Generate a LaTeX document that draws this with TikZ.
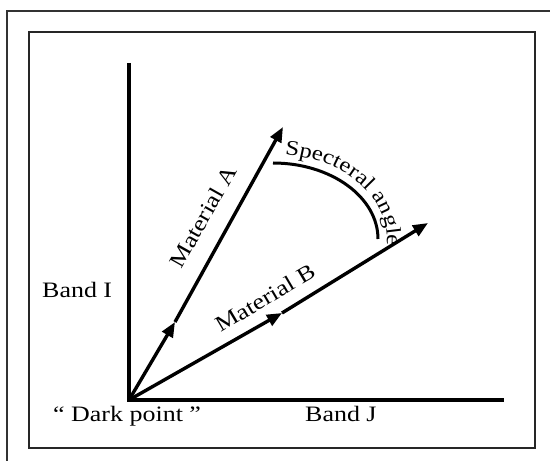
\documentclass[tikz,border=0pt]{standalone}
\usepackage{fontspec}
\setmainfont{Liberation Serif}[FakeStretch=1.18]
\usetikzlibrary{arrows.meta,decorations.text}
\tikzset{
  axisline/.style={line width=4pt, line cap=butt},
  vecline/.style={line width=3.4pt, -{Triangle[length=15pt,width=12pt]}},
  lbl/.style={inner sep=0pt, font=\fontsize{22}{22}\selectfont},
  frameline/.style={line width=1.8pt, draw=black!80},
  boxline/.style={line width=1.5pt, draw=black!85},
}
\begin{document}
\begin{tikzpicture}[x=1pt,y=1pt]
\useasboundingbox (0,0) rectangle (550,461);
\clip (0,0) rectangle (550,461);
\fill[white] (0,0) rectangle (550,461);
% frames
\draw[frameline] (7,-10) -- (7,450) -- (560,450);
\draw[boxline] (29,13) rectangle (535,429);
% coordinates
\coordinate (O) at (129,61);
\coordinate (Ytop) at (129,398);
\coordinate (Xend) at (504,61);
\coordinate (Amid) at (175,139);
\coordinate (Atip) at (283,334);
\coordinate (Bmid) at (282,148);
\coordinate (Btip) at (428,238);
\coordinate (ArcS) at (273,298);
% axes
\draw[axisline] (Ytop) -- (O) -- (Xend);
% vectors
\draw[vecline] (O) -- (Amid);
\draw[vecline] (Amid) -- (Atip);
\draw[vecline] (O) -- (Bmid);
\draw[vecline] (Bmid) -- (Btip);
% angle arc
\draw[line width=3pt] (ArcS) arc[start angle=90, end angle=0, x radius=105, y radius=76];
\path[decorate, decoration={text along path, text align=left,
  text={|\fontsize{21}{21}\selectfont|Specteral angle}}]
  (273,222) ++(84:114 and 85) arc[start angle=84, end angle=-10, x radius=114, y radius=85];
% labels
\node[lbl, anchor=base west] (bandI) at (42,163) {Band I};
\node[lbl, anchor=base west] (dark) at (53,39) {“ Dark point ”};
\node[lbl, anchor=base west] (bandJ) at (305,39) {Band J};
\node[lbl, rotate=60.6] (matA) at (203,244) {Material A};
\node[lbl, rotate=30.6] (matB) at (265,163) {Material B};
\end{tikzpicture}
\end{document}
